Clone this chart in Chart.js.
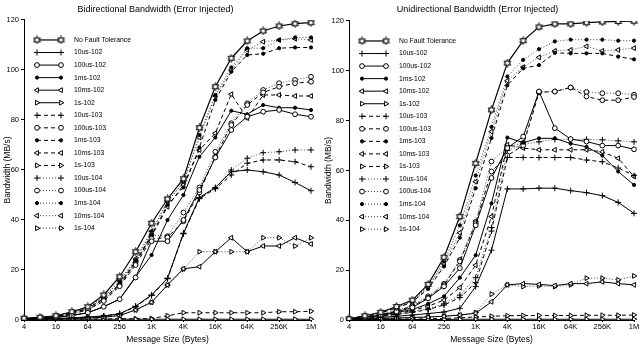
<!DOCTYPE html>
<html>
<head>
<meta charset="utf-8">
<script src="https://cdn.jsdelivr.net/npm/chart.js@4/dist/chart.umd.min.js"></script>
<style>
html, body { margin: 0; padding: 0; background: #fff; }
#wrap { position: relative; width: 642px; height: 349px; }
.panel { position: absolute; top: 0; width: 321px; height: 349px; }
</style>
</head>
<body>
<div id="wrap">
  <div class="panel" style="left:0"><canvas id="biChart"></canvas></div>
  <div class="panel" style="left:321px"><canvas id="uniChart"></canvas></div>
</div>
<script>
// message sizes (every power of two), only every other one gets a label
const sizeLabels = ['4', '8', '16', '32', '64', '128', '256', '512', '1K', '2K', '4K',
                    '8K', '16K', '32K', '64K', '128K', '256K', '512K', '1M'];
const yTicks = [0, 20, 40, 60, 80, 100, 120];

const seriesLabels = ['No Fault Tolerance',
  '10us-102', '100us-102', '1ms-102', '10ms-102', '1s-102',
  '10us-103', '100us-103', '1ms-103', '10ms-103', '1s-103',
  '10us-104', '100us-104', '1ms-104', '10ms-104', '1s-104'];

// Bidirectional (MB/s)
const biNoFT     = [0.7, 1.1, 1.7, 3.3, 5.3, 10, 17.3, 27.3, 38.7, 48.4, 56.5, 76.9, 93.3, 104.7, 111.6, 115.6, 117.6, 118.5, 118.9];
const bi10us102  = [0.3, 0.4, 0.6, 0.8, 1.2, 1.6, 2.5, 5.5, 10, 16.7, 34.7, 49, 53, 59.3, 60, 59.3, 58, 55, 51.7];
const bi100us102 = [0.4, 0.7, 1.1, 1.8, 2.9, 5.3, 8.3, 17, 31.5, 31.5, 40, 52, 65, 76, 81.3, 83.3, 84, 82.3, 81.3];
const bi1ms102   = [0.4, 0.7, 1.1, 1.8, 2.9, 5.3, 8.4, 17.3, 26, 40, 50, 65.3, 73, 83.7, 82.3, 86, 84.9, 84.9, 84];
const bi10ms102  = [0.3, 0.4, 0.5, 0.6, 0.8, 1.1, 1.8, 4, 7.1, 14, 20.5, 21.3, 27.3, 32.9, 27.3, 29.6, 29.6, 32.9, 30.4];
const bi1s102    = [0.3, 0.3, 0.3, 0.3, 0.3, 0.3, 0.3, 0.3, 0.3, 0.3, 0.3, 0.3, 0.3, 0.3, 0.3, 0.3, 0.3, 0.3, 0.3];
const bi10us103  = [0.3, 0.4, 0.6, 0.8, 1.2, 1.6, 2.5, 5.3, 9.8, 16.5, 34.5, 48.5, 52.5, 58, 62.7, 64, 64, 63.3, 61.3];
const bi100us103 = [0.5, 0.8, 1.3, 2.4, 4, 7.6, 13.5, 22, 32.5, 33, 39.5, 51, 65.3, 78, 86, 91, 93.3, 94.7, 95.3];
const bi1ms103   = [0.6, 1, 1.5, 2.9, 4.6, 8.5, 14.5, 23.5, 34, 46, 53, 69, 88, 99.3, 106, 106.5, 108.7, 109, 109];
const bi10ms103  = [0.6, 1, 1.5, 2.9, 4.5, 8.5, 14, 23, 33.5, 45.3, 54, 68, 74.7, 90.3, 80.7, 90, 90, 89.6, 89.6];
const bi1s103    = [0.3, 0.3, 0.3, 0.4, 0.4, 0.4, 0.5, 0.5, 0.6, 1.7, 2.9, 2.9, 2.9, 2.9, 2.9, 2.9, 3.3, 3.3, 3.5];
const bi10us104  = [0.3, 0.4, 0.6, 0.8, 1.2, 1.6, 2.5, 5.4, 9.9, 16.6, 34.6, 48.7, 52.7, 60, 64.7, 66.9, 67.3, 68, 68];
const bi100us104 = [0.5, 0.8, 1.3, 2.5, 4.2, 8, 14, 23, 34, 33.5, 43, 53, 67.3, 78.7, 86.7, 92, 94.7, 96, 97.3];
const bi1ms104   = [0.6, 1.1, 1.6, 3.1, 5, 9, 15.5, 24, 35.3, 47.3, 55, 74, 90, 101, 108.7, 108.7, 112, 113, 113];
const bi10ms104  = [0.6, 1.1, 1.6, 3.1, 4.9, 9.2, 15.5, 24.5, 35.5, 47.5, 55, 73, 89.6, 100, 108, 111.3, 112, 112.5, 112];
const bi1s104    = [0.3, 0.4, 0.5, 0.6, 0.8, 1.1, 1.8, 4, 7.1, 14, 20.3, 27.3, 27.3, 27.3, 27.3, 32.9, 32.9, 29.6, 32.9];

// Unidirectional (MB/s)
const uniNoFT     = [0.5, 1.7, 3.1, 5.4, 8, 14.3, 25.2, 41.5, 62.9, 84.3, 103.1, 112.1, 117.6, 118.8, 118.8, 119.3, 119.6, 119.8, 119.9];
const uni10us102  = [0.2, 0.6, 1, 1.5, 2, 2.6, 3.2, 4.7, 13.4, 28, 52.6, 52.6, 52.9, 52.9, 51.9, 51.1, 49.9, 47.2, 42.8];
const uni100us102 = [0.4, 1.1, 2, 3.3, 5, 8.7, 13.5, 20.8, 38, 57, 69, 73.6, 91.7, 77, 72.6, 71.6, 70, 70, 68.5];
const uni1ms102   = [0.3, 1, 1.8, 3, 4.2, 6.5, 9.5, 17, 26, 46.8, 73.2, 71.2, 72.9, 72.9, 70.8, 69.5, 66, 59.6, 54.2];
const uni10ms102  = [0.2, 0.4, 0.6, 0.8, 1, 1.2, 1.5, 2, 2.7, 7.3, 14.1, 14.6, 14.3, 13.8, 14.6, 14.6, 15.3, 14.6, 14.1];
const uni1s102    = [0.2, 0.2, 0.2, 0.2, 0.2, 0.2, 0.2, 0.3, 0.3, 0.3, 0.3, 0.3, 0.3, 0.3, 0.3, 0.3, 0.3, 0.3, 0.3];
const uni10us103  = [0.3, 0.8, 1.4, 2.2, 3.1, 4.2, 6, 9, 15, 35.7, 65.2, 65.2, 65.2, 65.2, 65.2, 64.2, 63.5, 61, 58];
const uni100us103 = [0.4, 1.2, 2.2, 3.6, 5.5, 9, 14, 23.5, 38.8, 59.6, 66, 70, 91.3, 91.7, 93.3, 89.7, 88.2, 88.2, 89.5];
const uni1ms103   = [0.5, 1.5, 2.8, 4.8, 7.2, 12.5, 21.5, 33, 52.9, 73, 94.2, 101, 102.3, 107.2, 107, 107, 107, 105.7, 104.6];
const uni10ms103  = [0.3, 0.9, 1.6, 2.5, 3.8, 5.5, 8, 13, 22, 41.5, 70.3, 69, 68.3, 68.3, 68.3, 68.3, 67.5, 64.9, 57.6];
const uni1s103    = [0.3, 0.3, 0.3, 0.4, 0.4, 0.5, 0.6, 0.9, 1.2, 1.5, 1.7, 1.8, 1.8, 1.8, 1.8, 1.9, 1.9, 1.9, 2];
const uni10us104  = [0.3, 0.8, 1.5, 2.3, 3.3, 4.5, 6.5, 10, 17, 37.1, 68, 70.5, 71.5, 72.5, 72.5, 72.5, 72.3, 71.9, 71.5];
const uni100us104 = [0.4, 1.2, 2.3, 3.8, 5.8, 9.5, 14.5, 24.1, 39.4, 63.6, 69.5, 71, 91.5, 91.7, 93.3, 91.5, 91, 91, 90.4];
const uni1ms104   = [0.5, 1.6, 3, 5.2, 7.6, 13.5, 23.5, 38, 58, 77.5, 97.7, 104.4, 108.7, 111.8, 112.5, 112.5, 112.5, 112.1, 112.1];
const uni10ms104  = [0.5, 1.5, 2.9, 5, 7.4, 13, 22.5, 35, 55.5, 75.6, 96, 101.5, 105.4, 108, 108.4, 109.8, 108, 108.4, 109.1];
const uni1s104    = [0.2, 0.4, 0.6, 0.8, 1, 1.2, 1.5, 2, 3, 10.4, 14.1, 13.4, 13.7, 13.4, 14.1, 16.8, 16.8, 16.1, 17.7];

const biSeries = [biNoFT, bi10us102, bi100us102, bi1ms102, bi10ms102, bi1s102,
  bi10us103, bi100us103, bi1ms103, bi10ms103, bi1s103,
  bi10us104, bi100us104, bi1ms104, bi10ms104, bi1s104];
const uniSeries = [uniNoFT, uni10us102, uni100us102, uni1ms102, uni10ms102, uni1s102,
  uni10us103, uni100us103, uni1ms103, uni10ms103, uni1s103,
  uni10us104, uni100us104, uni1ms104, uni10ms104, uni1s104];

const FONT = "'Liberation Sans Narrow', 'Arial Narrow', 'Liberation Sans', Arial, sans-serif";

// hexagram marker (matlab style) for the no fault tolerance line
function hexagram(size) {
    const c = document.createElement('canvas');
    c.width = size; c.height = size;
    const g = c.getContext('2d');
    const cx = size / 2, cy = size / 2, r = size / 2 - 0.5;
    g.lineWidth = 0.8;
    g.strokeStyle = '#000';
    g.fillStyle = '#fff';
    const tri = (off) => {
        g.beginPath();
        for (let k = 0; k < 3; k++) {
            const a = off + k * 2 * Math.PI / 3;
            const px = cx + r * Math.sin(a), py = cy - r * Math.cos(a);
            if (k === 0) g.moveTo(px, py); else g.lineTo(px, py);
        }
        g.closePath();
    };
    tri(0); g.fill(); tri(Math.PI); g.fill();
    tri(0); g.stroke(); tri(Math.PI); g.stroke();
    return c;
}
const hexMark = hexagram(9);

const dashes = [[], [4, 3], [1, 2]];
const markers = [
    { pointStyle: 'cross', radius: 3, bg: '#000', rot: 0 },        // 10us
    { pointStyle: 'circle', radius: 2.4, bg: '#fff', rot: 0 },     // 100us
    { pointStyle: 'circle', radius: 1.6, bg: '#000', rot: 0 },     // 1ms
    { pointStyle: 'triangle', radius: 2.8, bg: '#fff', rot: 270 }, // 10ms
    { pointStyle: 'triangle', radius: 2.8, bg: '#fff', rot: 90 }   // 1s
];

function makeDatasets(series) {
    return series.map((vals, k) => {
        const ds = {
            label: seriesLabels[k],
            data: vals,
            borderColor: '#000',
            pointBorderColor: '#000',
            borderWidth: 1,
            pointBorderWidth: 1,
            tension: 0
        };
        if (k === 0) {
            ds.pointStyle = hexMark;
            ds.pointRadius = 4;
            ds.pointBackgroundColor = '#fff';
            ds.borderDash = [];
            ds.borderWidth = 1.2;
        } else {
            const m = markers[(k - 1) % 5];
            const grp = Math.floor((k - 1) / 5);
            ds.borderDash = dashes[grp];
            if (grp === 2) ds.borderColor = '#444';
            ds.pointStyle = m.pointStyle;
            ds.pointRadius = m.radius;
            ds.pointRotation = m.rot;
            ds.pointBackgroundColor = m.bg;
        }
        return ds;
    });
}

// legend drawn inside the plot, line sample with a marker on both ends
const lineLegend = {
    id: 'lineLegend',
    afterDatasetsDraw(chart) {
        const { ctx, chartArea } = chart;
        const x0 = chartArea.left + 13, x1 = x0 + 24, tx = x0 + 37;
        ctx.save();
        ctx.font = '6.8px ' + FONT;
        ctx.textBaseline = 'middle';
        ctx.textAlign = 'left';
        chart.data.datasets.forEach((ds, k) => {
            const y = chartArea.top + 20 + k * 12.55;
            ctx.setLineDash(ds.borderDash || []);
            ctx.lineWidth = ds.borderWidth;
            ctx.strokeStyle = ds.borderColor;
            ctx.beginPath(); ctx.moveTo(x0, y); ctx.lineTo(x1, y); ctx.stroke();
            ctx.setLineDash([]);
            ctx.lineWidth = 1;
            ctx.fillStyle = ds.pointBackgroundColor;
            ctx.strokeStyle = '#000';
            const opts = { pointStyle: ds.pointStyle, rotation: ds.pointRotation || 0, radius: ds.pointRadius, borderWidth: 1 };
            Chart.helpers.drawPoint(ctx, opts, x0, y);
            Chart.helpers.drawPoint(ctx, opts, x1, y);
            ctx.fillStyle = '#000';
            ctx.fillText(ds.label, tx, y);
        });
        ctx.restore();
    }
};

function makeChart(id, title, series, yWidth, rightPad, titleBottom) {
    return new Chart(document.getElementById(id), {
        type: 'line',
        data: { labels: sizeLabels, datasets: makeDatasets(series) },
        options: {
            responsive: true,
            maintainAspectRatio: false,
            animation: false,
            layout: { padding: { left: 0, right: rightPad, top: 0, bottom: 0 } },
            plugins: {
                legend: { display: false },
                tooltip: { enabled: false },
                title: {
                    display: true,
                    text: title,
                    color: '#000',
                    font: { family: FONT, size: 9, weight: 'normal', lineHeight: 1.33 },
                    padding: { top: 4, bottom: titleBottom }
                }
            },
            scales: {
                x: {
                    type: 'category',
                    offset: false,
                    afterFit: (s) => { s.height = 29; },
                    border: { display: true, color: '#000', width: 1 },
                    grid: {
                        drawOnChartArea: false,
                        tickLength: 2,
                        tickColor: (c) => (c.index % 2 ? 'rgba(0,0,0,0)' : '#000')
                    },
                    ticks: {
                        autoSkip: false,
                        maxRotation: 0,
                        padding: 0,
                        color: '#000',
                        font: { family: FONT, size: 7.5 },
                        callback: (v, i) => (i % 2 ? '' : sizeLabels[i])
                    },
                    title: {
                        display: true,
                        text: 'Message Size (Bytes)',
                        color: '#000',
                        font: { family: FONT, size: 8.5 },
                        padding: { top: 0, bottom: 4.5 }
                    }
                },
                y: {
                    min: 0,
                    max: 120,
                    afterFit: (s) => { s.width = yWidth; },
                    afterBuildTicks: (s) => { s.ticks = yTicks.map(v => ({ value: v })); },
                    border: { display: true, color: '#000', width: 1 },
                    grid: { drawOnChartArea: false, tickLength: 3, color: '#000' },
                    ticks: {
                        padding: 2,
                        color: '#000',
                        font: { family: FONT, size: 7.5 }
                    },
                    title: {
                        display: true,
                        text: 'Bandwidth (MB/s)',
                        color: '#000',
                        font: { family: FONT, size: 8.5 },
                        padding: { top: 3, bottom: 0 }
                    }
                }
            }
        },
        plugins: [lineLegend]
    });
}

makeChart('biChart', 'Bidirectional Bandwidth (Error Injected)', biSeries, 24, 10, 4);
makeChart('uniChart', 'Unidirectional Bandwidth (Error Injected)', uniSeries, 28, 8, 5);
</script>
</body>
</html>
